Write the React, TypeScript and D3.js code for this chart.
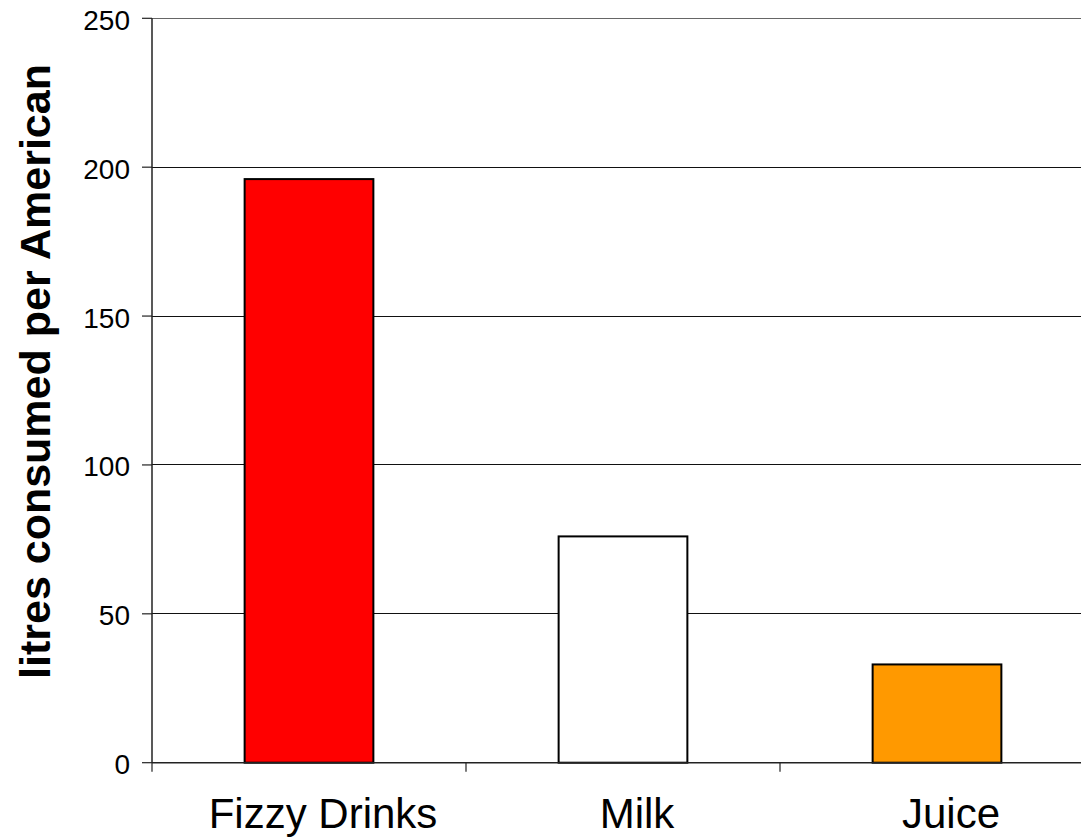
import React from "react";
import * as d3 from "d3";

const categories = ["Fizzy Drinks", "Milk", "Juice"];
const values = [196, 76, 33];
const barColors = ["#FF0000", "#FFFFFF", "#FF9900"];
const yTicks = [0, 50, 100, 150, 200, 250];
const yTitle = "litres consumed per American";

const W = 1081;
const H = 839;
const left = 152;
const right = 1094;
const top = 18.3;
const bottom = 762.7;

export default function App() {
  const x = d3
    .scaleBand<string>()
    .domain(categories)
    .range([left, right])
    .paddingInner(0.59)
    .paddingOuter(0.295);
  const y = d3.scaleLinear().domain([0, 250]).range([bottom, top]);
  const step = x.step();
  const bounds = d3.range(categories.length + 1).map((i) => left + i * step);
  const font = "'Liberation Sans', Arial, sans-serif";

  return (
    <svg
      width={W}
      height={H}
      style={{ position: "absolute", left: 0, top: 0, background: "#fff" }}
    >
      {/* gridlines */}
      {yTicks.map((t) => (
        <line
          key={"g" + t}
          x1={left}
          x2={W}
          y1={y(t)}
          y2={y(t)}
          stroke={t === 250 ? "#666" : "#111"}
          strokeWidth={1}
          shapeRendering="crispEdges"
        />
      ))}
      {/* bars */}
      {categories.map((c, i) => (
        <rect
          key={c}
          x={x(c)}
          y={y(values[i])}
          width={x.bandwidth()}
          height={y(0) - y(values[i])}
          fill={barColors[i]}
          stroke="#000"
          strokeWidth={2}
        />
      ))}
      {/* y axis */}
      <line x1={left} x2={left} y1={top} y2={bottom} stroke="#222" strokeWidth={1.5} />
      {yTicks.map((t) => (
        <g key={"t" + t}>
          <line x1={left - 10} x2={left} y1={y(t)} y2={y(t)} stroke="#222" strokeWidth={1.2} />
          <text
            x={130}
            y={y(t) + 2}
            textAnchor="end"
            dominantBaseline="central"
            fontFamily={font}
            fontSize={28}
            fill="#000"
          >
            {t}
          </text>
        </g>
      ))}
      {/* x axis */}
      <line x1={left} x2={W} y1={bottom} y2={bottom} stroke="#222" strokeWidth={1.5} />
      {bounds.map((b, i) => (
        <line key={"xt" + i} x1={b} x2={b} y1={bottom} y2={bottom + 9} stroke="#222" strokeWidth={1.2} />
      ))}
      {categories.map((c) => (
        <text
          key={"l" + c}
          x={(x(c) as number) + x.bandwidth() / 2 + 14}
          y={828}
          textAnchor="middle"
          fontFamily={font}
          fontSize={42}
          fill="#000"
        >
          {c}
        </text>
      ))}
      {/* y title */}
      <text
        transform={`translate(50,371.5) rotate(-90)`}
        textAnchor="middle"
        fontFamily={font}
        fontWeight="bold"
        fontSize={43}
        fill="#000"
      >
        {yTitle}
      </text>
    </svg>
  );
}
